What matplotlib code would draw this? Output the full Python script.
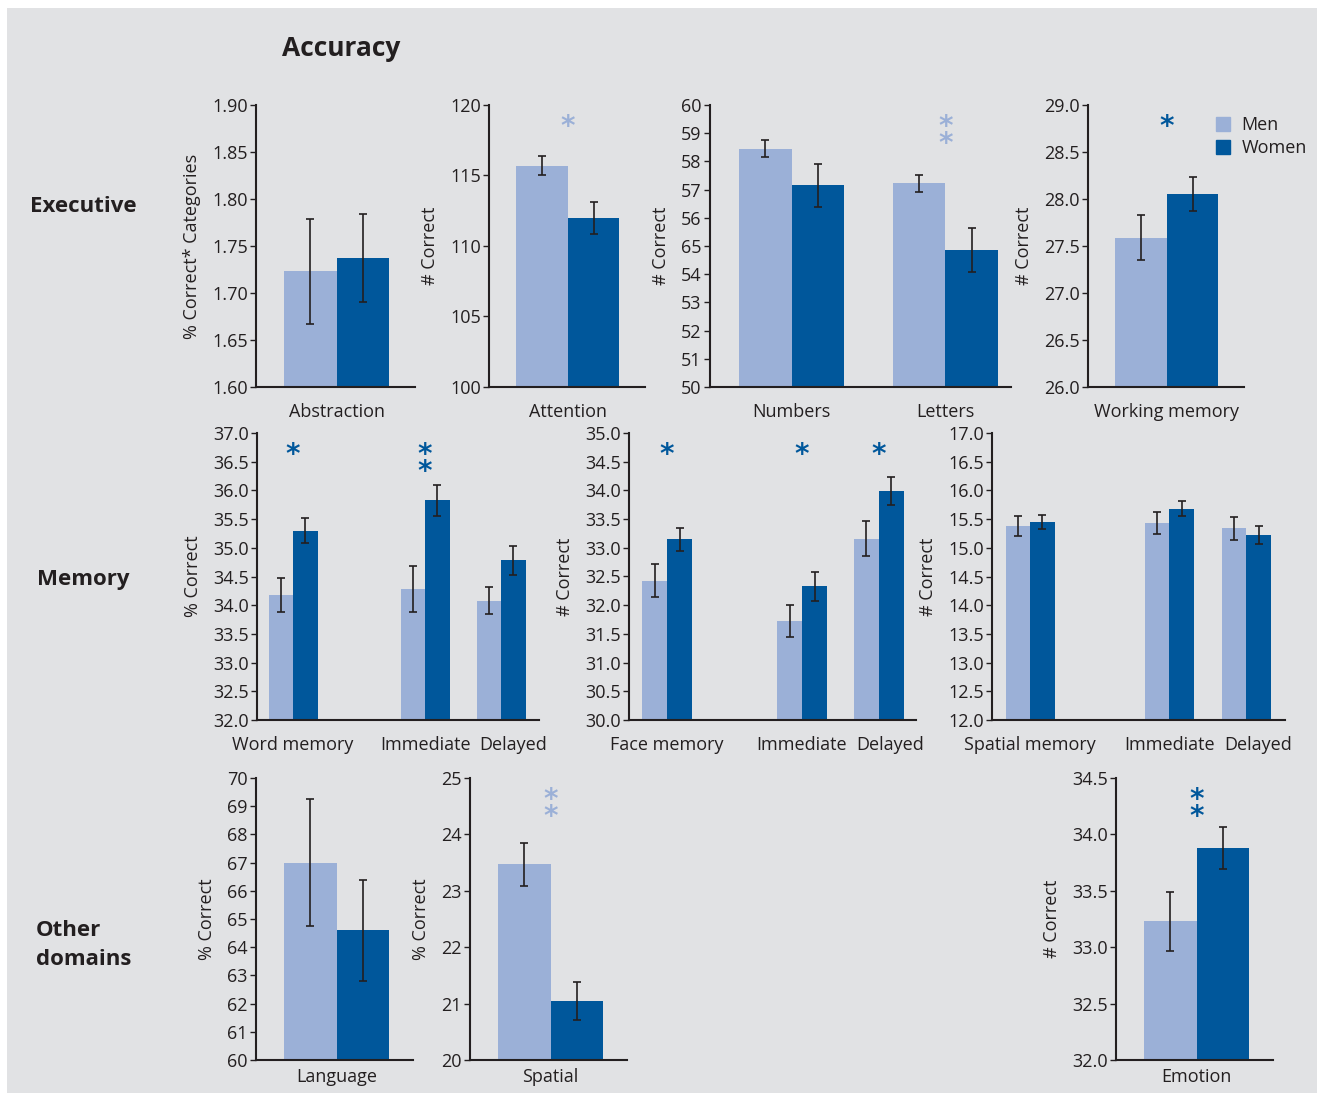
import numpy as np
import matplotlib.pyplot as plt
from matplotlib.patches import Patch, Rectangle

plt.rcParams['font.family'] = ['Open Sans', 'DejaVu Sans']
plt.rcParams['font.size'] = 13

MEN = '#9bb0d7'
WOMEN = '#00579b'
INK = '#231f20'
BG = '#e1e2e4'

# ---- data (means and error half-widths) ----
abstraction_men, abstraction_men_err = [1.723], [0.056]
abstraction_women, abstraction_women_err = [1.737], [0.047]

attention_men, attention_men_err = [115.7], [0.65]
attention_women, attention_women_err = [112.0], [1.15]

span_labels = ['Numbers', 'Letters']
span_men, span_men_err = [58.45, 57.22], [0.30, 0.31]
span_women, span_women_err = [57.15, 54.86], [0.76, 0.79]
span_ticklabels = ['50', '51', '52', '53', '54', '65', '56', '57', '58', '59', '60']

wm_men, wm_men_err = [27.59], [0.24]
wm_women, wm_women_err = [28.05], [0.18]

mem_labels_word = ['Word memory', 'Immediate', 'Delayed']
word_men, word_men_err = [34.18, 34.28, 34.08], [0.29, 0.40, 0.24]
word_women, word_women_err = [35.30, 35.83, 34.78], [0.22, 0.27, 0.25]

mem_labels_face = ['Face memory', 'Immediate', 'Delayed']
face_men, face_men_err = [32.43, 31.72, 33.16], [0.28, 0.28, 0.30]
face_women, face_women_err = [33.15, 32.33, 33.99], [0.20, 0.25, 0.24]

mem_labels_spatial = ['Spatial memory', 'Immediate', 'Delayed']
spmem_men, spmem_men_err = [15.38, 15.43, 15.34], [0.17, 0.19, 0.20]
spmem_women, spmem_women_err = [15.45, 15.68, 15.22], [0.12, 0.13, 0.16]

language_men, language_men_err = [67.0], [2.25]
language_women, language_women_err = [64.6], [1.80]

spatial_men, spatial_men_err = [23.47], [0.38]
spatial_women, spatial_women_err = [21.05], [0.34]

emotion_men, emotion_men_err = [33.23], [0.26]
emotion_women, emotion_women_err = [33.88], [0.19]

W, H = 1317, 1093
fig = plt.figure(figsize=(W / 100, H / 100), dpi=100)
fig.patch.set_facecolor('white')
fig.patches.append(Rectangle((7 / W, 0), 1, 1 - 8 / H, transform=fig.transFigure,
                             facecolor=BG, edgecolor='none', zorder=-10))


def panel(px, centers, labels, men, men_err, women, women_err,
          ylim, yticks, yticklabels, ylabel, xlim, stars=(),
          label_shift=None, label_pad=25):
    x0, y0, x1, y1 = px
    ax = fig.add_axes([x0 / W, 1 - y1 / H, (x1 - x0) / W, (y1 - y0) / H])
    ax.set_facecolor('none')
    c = np.array(centers, dtype=float)
    ekw = dict(ecolor=INK, elinewidth=1.2, capsize=3, capthick=1.2)
    ax.bar(c - 0.5, men, width=1.0, color=MEN, yerr=men_err, error_kw=ekw, zorder=2)
    ax.bar(c + 0.5, women, width=1.0, color=WOMEN, yerr=women_err, error_kw=ekw, zorder=2)
    ax.set_xlim(*xlim)
    ax.set_ylim(*ylim)
    ax.set_yticks(yticks)
    ax.set_yticklabels(yticklabels)
    ax.set_xticks([])
    ax.set_ylabel(ylabel, labelpad=8, color=INK)
    for s in ['top', 'right']:
        ax.spines[s].set_visible(False)
    for s in ['left', 'bottom']:
        ax.spines[s].set_color(INK)
        ax.spines[s].set_linewidth(1.5)
    ax.tick_params(axis='y', direction='out', length=4, width=1, pad=2,
                   colors=INK, labelsize=13)
    # category names under each pair of bars
    shifts = label_shift or [0] * len(labels)
    for cx, lab, dx in zip(c, labels, shifts):
        ax.annotate(lab, xy=(cx, 0), xycoords=ax.get_xaxis_transform(),
                    xytext=(dx, -label_pad), textcoords='offset pixels',
                    ha='center', va='center', fontsize=13, color=INK)
    # significance marks: (group, count, colour), stacked asterisks
    for g, n, col in stars:
        ax.annotate('\n'.join(['*'] * n), xy=(c[g], 1), xycoords=ax.get_xaxis_transform(),
                    xytext=(0, -30 - 17 * (n - 1)), textcoords='offset pixels',
                    ha='center', va='baseline', fontsize=20, color=col,
                    fontweight='bold', family='DejaVu Sans', linespacing=0.5)
    return ax


# Executive row
panel((256, 105, 415, 387), [0], ['Abstraction'],
      abstraction_men, abstraction_men_err, abstraction_women, abstraction_women_err,
      (1.6, 1.9), np.arange(1.60, 1.91, 0.05),
      ['%.2f' % v for v in np.arange(1.60, 1.91, 0.05)],
      '% Correct* Categories', (-1.53, 1.49))
panel((489, 105, 645, 387), [0], ['Attention'],
      attention_men, attention_men_err, attention_women, attention_women_err,
      (100, 120), [100, 105, 110, 115, 120], ['100', '105', '110', '115', '120'],
      '# Correct', (-1.53, 1.5), stars=[(0, 1, MEN)])
panel((710, 105, 1011, 387), [0, 2.92], span_labels,
      span_men, span_men_err, span_women, span_women_err,
      (50, 60), np.arange(50, 61), span_ticklabels,
      '# Correct', (-1.55, 4.17), stars=[(1, 2, MEN)])
wm_ticks = np.arange(26.0, 29.01, 0.5)
panel((1088, 105, 1244, 387), [0], ['Working memory'],
      wm_men, wm_men_err, wm_women, wm_women_err,
      (26, 29), wm_ticks, ['%.1f' % v for v in wm_ticks],
      '# Correct', (-1.53, 1.5), stars=[(0, 1, WOMEN)])

# Memory row
t = np.arange(32.0, 37.01, 0.5)
panel((257, 433, 539, 720), [0, 5.39, 8.49], mem_labels_word,
      word_men, word_men_err, word_women, word_women_err,
      (32, 37), t, ['%.1f' % v for v in t],
      '% Correct', (-1.47, 10.04), stars=[(0, 1, WOMEN), (1, 2, WOMEN)],
      label_shift=[0, 0, 12])
t = np.arange(30.0, 35.01, 0.5)
panel((629, 433, 916, 720), [0, 5.4, 8.46], mem_labels_face,
      face_men, face_men_err, face_women, face_women_err,
      (30, 35), t, ['%.1f' % v for v in t],
      '# Correct', (-1.52, 9.96), stars=[(0, 1, WOMEN), (1, 1, WOMEN), (2, 1, WOMEN)],
      label_shift=[0, 0, 12])
t = np.arange(12.0, 17.01, 0.5)
panel((992, 433, 1285, 720), [0, 5.7, 8.85], mem_labels_spatial,
      spmem_men, spmem_men_err, spmem_women, spmem_women_err,
      (12, 17), t, ['%.1f' % v for v in t],
      '# Correct', (-1.56, 10.43), label_shift=[0, 0, 12])

# Other domains row
panel((256, 778, 413, 1060), [0], ['Language'],
      language_men, language_men_err, language_women, language_women_err,
      (60, 70), np.arange(60, 71), [str(v) for v in range(60, 71)],
      '% Correct', (-1.53, 1.45), label_pad=17)
panel((470, 778, 627, 1060), [0], ['Spatial'],
      spatial_men, spatial_men_err, spatial_women, spatial_women_err,
      (20, 25), np.arange(20, 26), [str(v) for v in range(20, 26)],
      '% Correct', (-1.53, 1.45), stars=[(0, 2, MEN)], label_pad=17)
t = np.arange(32.0, 34.51, 0.5)
panel((1116, 778, 1273, 1060), [0], ['Emotion'],
      emotion_men, emotion_men_err, emotion_women, emotion_women_err,
      (32, 34.5), t, ['%.1f' % v for v in t],
      '# Correct', (-1.53, 1.45), stars=[(0, 2, WOMEN)], label_pad=17)

# titles and row labels
fig.text(282 / W, 1 - 49 / H, 'Accuracy', fontsize=19, fontweight='bold',
         color=INK, ha='left', va='center')
fig.text(30 / W, 1 - 207 / H, 'Executive', fontsize=16, fontweight='bold',
         color=INK, ha='left', va='center')
fig.text(37 / W, 1 - 580 / H, 'Memory', fontsize=16, fontweight='bold',
         color=INK, ha='left', va='center')
fig.text(36 / W, 1 - 945 / H, 'Other\ndomains', fontsize=16, fontweight='bold',
         color=INK, ha='left', va='center', linespacing=1.45)

fig.legend(handles=[Patch(color=MEN, label='Men'), Patch(color=WOMEN, label='Women')],
           loc='upper left', bbox_to_anchor=(1216 / W, 1 - 116 / H), frameon=False,
           handlelength=0.8, handleheight=0.8, labelspacing=0.28, handletextpad=0.6,
           borderaxespad=0, borderpad=0, fontsize=13, labelcolor=INK)

fig.savefig('out.png', dpi=100, facecolor=fig.get_facecolor())
